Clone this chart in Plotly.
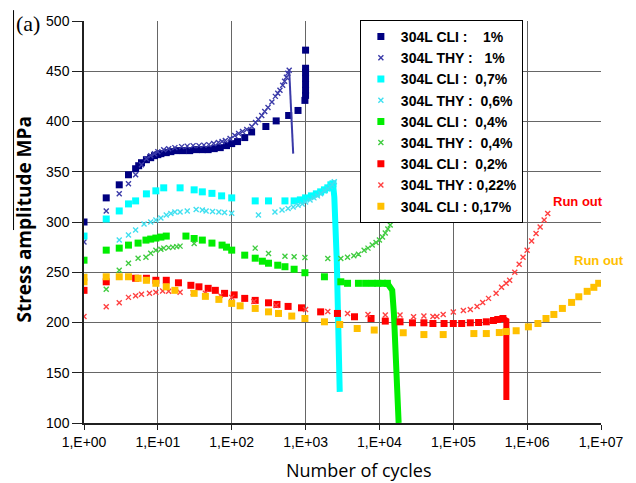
import plotly.graph_objects as go

# ---------------- data ----------------
cli1_n = [1, 2, 3, 4, 5, 5.5, 6, 7, 8, 9, 10, 11, 13, 15, 18, 22, 27, 33, 40, 48, 58, 70, 85, 100,
          120, 150, 186, 290, 400, 590, 790, 980, 1000, 1000, 1000, 1000, 1000, 1000, 1000]
cli1_s = [300, 324, 337, 347, 353, 356, 359, 362, 364, 366, 367, 368, 369, 370, 371, 371, 371, 372, 372, 372,
          373, 374, 376, 378, 380, 384, 389.6, 395, 400.6, 406, 411, 421, 426, 431, 437, 443, 449, 453, 471]

thy1_n = [1, 2, 3, 4, 5, 6, 7, 8, 9, 10, 12, 14, 17, 21, 25, 30, 36, 42, 49, 57, 66, 74, 82, 95, 110, 124,
          140, 160, 187, 210, 230, 255, 280, 310, 350, 390, 420, 450, 490, 520, 550, 575, 600]
thy1_s = [280, 311, 328, 338, 347, 357, 363, 366, 368, 370, 372, 373, 374, 375, 375.5, 376, 376, 376.5, 377,
          378, 379, 380, 381, 383, 386, 388, 390, 392, 395, 399, 402, 406, 410, 414, 419.5, 425, 428, 431,
          436, 440, 444, 448, 451]
thy1_drop_n = [600, 640, 680]
thy1_drop_s = [451, 411, 368]

cli07_n = [1, 2, 3, 4, 5, 7, 9.4, 12, 20, 31, 40, 54, 73, 100, 208, 315, 526, 700, 850, 1000,
           1200, 1400, 1600, 1800, 2000, 2200, 2350]
cli07_s = [286, 303, 311, 318, 321, 328, 331, 334, 334, 332, 330, 328.5, 326, 324, 321, 321, 321, 321, 322,
           324, 326, 328, 330, 332, 334, 337, 338]
cli07_drop_n = [2350, 2450, 2650, 2820, 2900]
cli07_drop_s = [338, 325, 260, 200, 131]

thy06_n = [1, 3, 4, 5, 6.5, 8, 9.4, 11, 13, 15, 17, 20, 25, 33, 40, 45, 55, 67, 80, 100, 230, 385, 480, 580,
           680, 790, 900, 1000, 1150, 1300, 1450, 1600, 1800, 2000, 2150, 2300, 2450]
thy06_s = [246, 282, 287, 292, 298, 300, 302, 304, 307, 308.5, 310, 310, 311, 312.5, 312, 311, 310.5, 310,
           309.5, 308.6, 307, 310, 312, 313.5, 315, 316.7, 318, 320, 322, 324, 326, 328, 331, 333, 335, 337, 340]

cli04_n = [1, 2, 3, 4, 5.4, 6.9, 8, 9.4, 11, 13, 24, 31, 40, 54, 74, 85, 100, 150, 208, 260, 315, 420, 526,
           700, 980, 1800, 3000, 3700, 5200, 6500, 8000, 9500, 11000, 12800]
cli04_s = [262, 272, 274, 277, 279, 282, 283, 284, 285, 286, 286, 283.6, 282, 279, 277, 275, 272, 267, 264,
           261, 259, 257, 255.5, 253, 249.5, 245.5, 240.5, 239, 239, 239, 239, 239, 239, 239]
cli04_drop_n = [12800, 14900, 15700, 16500, 18200]
cli04_drop_s = [239, 232, 209, 159, 100]

thy04_n = [2, 3, 4, 5.4, 6.9, 8, 9.4, 11, 12, 14, 16, 18, 20, 31, 208, 315, 526, 700, 980, 2000, 3000,
           3700, 4500, 5200, 6200, 7000, 8000, 9000, 10000, 11000, 12000, 13000, 14000]
thy04_s = [233, 252, 259, 264, 265, 269, 272, 273, 274, 274.5, 275, 275.5, 276, 278.6, 274, 268.7, 266,
           265.5, 264.7, 263.7, 263.7, 265, 266.5, 268, 272, 274, 277, 279.5, 282, 285, 289, 293, 297]

cli02_n = [1, 2, 5, 7, 9.4, 13, 19, 28, 36, 48, 60, 80, 108, 150, 208, 315, 410, 580, 880, 1600, 2700, 4600,
           7700, 12000, 19000, 28000, 40000, 53000, 75000, 100000, 130000, 170000, 220000, 280000, 350000,
           400000, 470000]
cli02_s = [232, 240.5, 244, 244, 242, 242, 239.5, 237, 235.5, 234, 232, 229, 227.5, 224, 222, 219.6, 218,
           216, 214.6, 210.6, 209, 205.7, 204, 201.4, 200.7, 199.7, 199.7, 199, 199, 199, 199, 199.7, 200,
           200.7, 202, 203, 204]
cli02_drop_n = [470000, 523000, 523000]
cli02_drop_s = [204, 202, 123]

thy022_n = [1, 2, 3, 4, 5, 6, 7.7, 9.4, 11.6, 14, 20, 30, 44, 70, 100, 200, 400, 1000, 2000, 3700, 7000,
            12000, 19000, 29000, 40000, 53000, 60000, 73000, 100000, 137000, 170000, 210000, 250000, 300000,
            380000, 450000, 520000, 580000, 680000, 780000, 880000, 1000000, 1150000, 1320000, 1500000,
            1700000, 1900000]
thy022_s = [206, 215.6, 219.6, 225, 226.6, 228, 229, 230, 231.3, 231, 230, 229.5, 229, 227, 225, 221, 217,
            213, 211, 209, 208, 207.5, 207.4, 205.7, 206.5, 206, 206, 208, 210.5, 212, 213, 216, 220, 224,
            229, 235, 239, 242, 250, 258, 265, 272, 281, 288.6, 295, 302, 308.5]

cli017_n = [1, 1, 2, 3, 4, 5.4, 7, 9.4, 13, 17, 31, 44, 67, 100, 130, 208, 315, 430, 650, 980, 1800, 2900,
            5000, 8500, 21000, 40000, 73000, 190000, 280000, 420000, 520000, 710000, 1040000, 1400000,
            1800000, 2300000, 3000000, 4000000, 5000000, 6500000, 8000000, 9300000]
cli017_s = [240.5, 245, 245.5, 245.5, 245.5, 244, 242, 239, 235.5, 232, 229, 226, 223, 219, 216.6, 214,
            210.6, 209, 206.4, 204, 200.7, 198, 194, 192.5, 189.8, 188, 188, 189, 189, 190, 191, 191.8,
            195.7, 199, 204, 208, 214, 220, 225.6, 231, 235, 239]

x_tickvals = [1, 10, 100, 1000, 10000, 100000, 1000000, 10000000]
x_ticktext = ["1,E+00", "1,E+01", "1,E+02", "1,E+03", "1,E+04", "1,E+05", "1,E+06", "1,E+07"]
y_tickvals = [100, 150, 200, 250, 300, 350, 400, 450, 500]

# ---------------- styling ----------------
SANS = "Liberation Sans, Arial, sans-serif"
navy, navy_x = "#000080", "#3a3aa8"
cyan, cyan_x = "#00FFFF", "#40E0F0"
green, green_x = "#00EE00", "#40CC40"
red, red_x = "#FF0000", "#FF4040"
gold = "#FFC000"

fig = go.Figure()


def sq(n, s, color, name):
    fig.add_trace(go.Scatter(x=n, y=s, mode="markers", name=name,
                             marker=dict(symbol="square", size=7, color=color)))


def xs(n, s, color, name):
    fig.add_trace(go.Scatter(x=n, y=s, mode="markers", name=name,
                             marker=dict(symbol="x-thin", size=5, color=color,
                                         line=dict(width=1.4, color=color))))


def drop(n, s, color, width):
    fig.add_trace(go.Scatter(x=n, y=s, mode="lines", showlegend=False, hoverinfo="skip",
                             line=dict(color=color, width=width)))


sq(cli1_n, cli1_s, navy, "304L CLI :    1%")
xs(thy1_n, thy1_s, navy_x, "304L THY :   1%")
drop(thy1_drop_n, thy1_drop_s, navy_x, 2)
sq(cli07_n, cli07_s, cyan, "304L CLI :  0,7%")
drop(cli07_drop_n, cli07_drop_s, cyan, 6)
xs(thy06_n, thy06_s, cyan_x, "304L THY :  0,6%")
sq(cli04_n, cli04_s, green, "304L CLI :  0,4%")
drop(cli04_drop_n, cli04_drop_s, green, 6)
xs(thy04_n, thy04_s, green_x, "304L THY :  0,4%")
sq(cli02_n, cli02_s, red, "304L CLI :  0,2%")
drop(cli02_drop_n, cli02_drop_s, red, 6)
xs(thy022_n, thy022_s, red_x, "304L THY : 0,22%")
sq(cli017_n, cli017_s, gold, "304L CLI : 0,17%")

fig.update_xaxes(type="log", range=[0, 7], tickvals=x_tickvals, ticktext=x_ticktext,
                 showgrid=True, gridcolor="#666666", gridwidth=1,
                 showline=True, linecolor="#202020", linewidth=1.5,
                 ticks="outside", ticklen=5, tickcolor="#202020",
                 tickfont=dict(family=SANS, size=14, color="black"), zeroline=False)
fig.update_yaxes(range=[100, 500], tickvals=y_tickvals,
                 showgrid=True, gridcolor="#666666", gridwidth=1,
                 showline=True, linecolor="#202020", linewidth=1.5,
                 ticks="outside", ticklen=10, tickcolor="#202020",
                 tickfont=dict(family=SANS, size=14, color="black"), zeroline=False)

fig.update_layout(
    width=636, height=483,
    margin=dict(l=84, r=31, t=21, b=60),
    paper_bgcolor="white", plot_bgcolor="white",
    showlegend=True,
    legend=dict(x=0.5336, y=1.0025, xanchor="left", yanchor="top",
                bgcolor="white", bordercolor="black", borderwidth=1,
                font=dict(family=SANS, size=14, color="black", weight="bold"),
                itemwidth=30, tracegroupgap=0),
    annotations=[
        dict(text="<b>Stress amplitude MPa</b>", xref="paper", yref="paper", x=-0.117, y=0.505,
             xanchor="center", yanchor="middle",
             textangle=-90, showarrow=False, font=dict(family="Open Sans, sans-serif", size=19, color="black")),
        dict(text="Number of cycles", xref="paper", yref="paper", x=0.53, y=-0.117,
             xanchor="center", yanchor="middle",
             showarrow=False, font=dict(family="Open Sans, sans-serif", size=18, color="black")),
        dict(text="(a)", xref="paper", yref="paper", x=-0.1075, y=0.995,
             xanchor="center", yanchor="middle",
             showarrow=False, font=dict(family="Liberation Serif, serif", size=22, color="black")),
        dict(text="<b>Run out</b>", xref="paper", yref="paper", x=0.956, y=0.552,
             xanchor="center", yanchor="middle",
             showarrow=False, font=dict(family=SANS, size=13, color=red)),
        dict(text="<b>Run out</b>", xref="paper", yref="paper", x=0.996, y=0.403,
             xanchor="center", yanchor="middle",
             showarrow=False, font=dict(family=SANS, size=13, color=gold)),
    ],
    shapes=[dict(type="line", xref="paper", yref="paper", x0=-0.1363, x1=-0.1363, y0=0.48, y1=1.027,
                 line=dict(color="black", width=1))],
)

fig.write_html("out.html", config={"displayModeBar": False},
               post_script="document.body.style.margin='0';document.body.style.overflow='hidden';")
